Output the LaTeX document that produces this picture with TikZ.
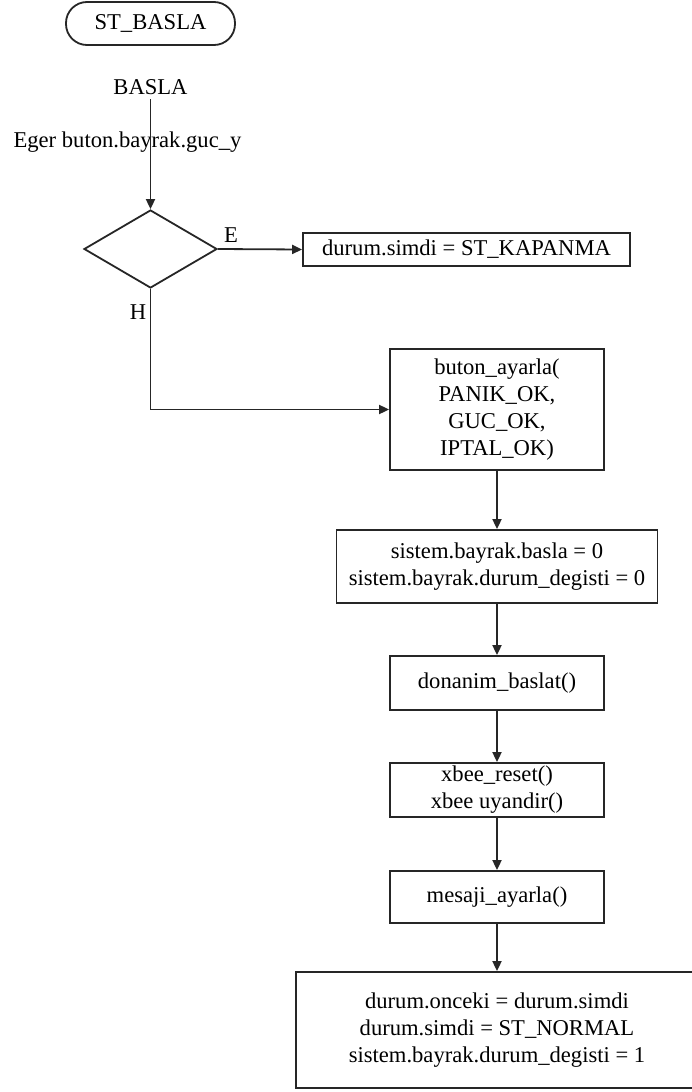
\documentclass[tikz,border=0pt]{standalone}
\usepackage{fontspec}
\setmainfont{Liberation Serif}
\usetikzlibrary{shapes.geometric,arrows.meta}

\begin{document}
\begin{tikzpicture}[x=1pt,y=-1pt,
  font=\fontsize{22.6}{27}\selectfont,
  line/.style={draw=black!85, line width=1.8pt},
  flow/.style={line, -{Triangle[length=10pt,width=9pt]}},
  procbox/.style={line, rectangle, align=center, inner sep=0pt},
  termbox/.style={line, rectangle, rounded corners=21pt, minimum width=169pt, minimum height=43pt},
  decision/.style={line, diamond, inner sep=0pt, minimum width=133pt, minimum height=78pt},
  plain/.style={inner sep=0pt}
]
\useasboundingbox (0,0) rectangle (692,1092);

% start state and entry condition
\node[termbox] (start) at (150.5,23.5) {ST\_BASLA};
\node[plain] (basla) at (150.5,87) {BASLA};
\node[plain] (cond) at (127.5,142) {Eger buton.bayrak.guc\_y};
\node[decision] (dec) at (150.5,249) {};
\node[plain] (lblE) at (231,235) {E};
\node[plain] (lblH) at (138,312) {H};

% yes branch
\node[procbox, minimum width=327pt, minimum height=33pt] (kapan) at (466.5,249.5) {durum.simdi = ST\_KAPANMA};

% no branch: initialisation sequence
\node[procbox, minimum width=214pt, minimum height=121pt] (buton) at (497,409.5)
  {buton\_ayarla(\\PANIK\_OK,\\GUC\_OK,\\IPTAL\_OK)};
\node[procbox, minimum width=321pt, minimum height=73pt] (sistem) at (497,566.5)
  {sistem.bayrak.basla = 0\\sistem.bayrak.durum\_degisti = 0};
\node[procbox, minimum width=214pt, minimum height=54pt] (donanim) at (497,683) {donanim\_baslat()};
\node[procbox, minimum width=214pt, minimum height=54pt] (xbee) at (497,790) {xbee\_reset()\\xbee uyandir()};
\node[procbox, minimum width=214pt, minimum height=52pt] (mesaj) at (497,897) {mesaji\_ayarla()};
\node[procbox, minimum width=402pt, minimum height=116pt] (son) at (497,1030)
  {durum.onceki = durum.simdi\\durum.simdi = ST\_NORMAL\\sistem.bayrak.durum\_degisti = 1};

\coordinate (corner) at (dec.south |- buton.west);

% connectors
\draw[flow] (150.5,99) -- (dec.north);
\draw[flow] (dec.east) -- (kapan.west);
\draw[flow] (dec.south) -- (corner) -- (buton.west);
\draw[flow] (buton.south) -- (sistem.north);
\draw[flow] (sistem.south) -- (donanim.north);
\draw[flow] (donanim.south) -- (xbee.north);
\draw[flow] (xbee.south) -- (mesaj.north);
\draw[flow] (mesaj.south) -- (son.north);
\end{tikzpicture}
\end{document}
